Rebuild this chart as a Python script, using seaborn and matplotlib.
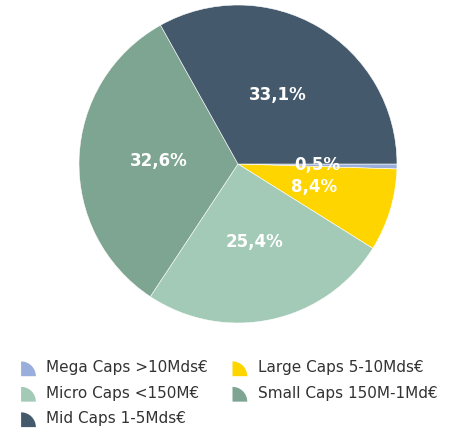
import matplotlib
matplotlib.use("Agg")
import matplotlib.pyplot as plt
import seaborn as sns
from matplotlib.patches import Wedge
from matplotlib.legend_handler import HandlerPatch

# données
categories = ['Mega Caps >10Mds€', 'Large Caps 5-10Mds€', 'Micro Caps <150M€',
              'Small Caps 150M-1Md€', 'Mid Caps 1-5Mds€']
parts = [0.5, 8.4, 25.4, 32.6, 33.1]
etiquettes = ['0,5%', '8,4%', '25,4%', '32,6%', '33,1%']
couleurs = ['#9aaedb', '#ffd500', '#a2cab6', '#7ea591', '#445a6c']

sns.set_theme(style='white')
plt.rcParams['font.family'] = ['DejaVu Sans']


class HandlerQuart(HandlerPatch):
    # petit quart de cercle comme symbole de légende
    def create_artists(self, legend, orig_handle, xdescent, ydescent,
                       width, height, fontsize, trans):
        r = height * 1.08
        p = Wedge((-xdescent, -ydescent - 1.5), r, 0, 90,
                  facecolor=orig_handle.get_facecolor(), edgecolor='none',
                  transform=trans)
        return [p]


fig = plt.figure(figsize=(4.59, 4.28), dpi=100)
ax = fig.add_axes([0.1721, 0.2453, 0.6928, 0.7430])

wedges, textes = ax.pie(parts, colors=couleurs, startangle=0, counterclock=False,
                        labels=etiquettes, labeldistance=0.5,
                        wedgeprops=dict(edgecolor='white', linewidth=0.4),
                        textprops=dict(color='white', fontweight='bold', fontsize=12,
                                       ha='center', va='center'))
ax.set_xlim(-1, 1)
ax.set_ylim(-1, 1)
ax.set_aspect('equal')

# ordre colonne par colonne pour obtenir le même rangement que l'original
ordre = [0, 2, 4, 1, 3]
leg = fig.legend([wedges[i] for i in ordre], [categories[i] for i in ordre],
                 loc='upper left', bbox_to_anchor=(0.016, 0.19), ncol=2,
                 frameon=False, fontsize=11, handlelength=1.05, handleheight=1.0,
                 handletextpad=0.6, columnspacing=1.6, labelspacing=0.68,
                 handler_map={w: HandlerQuart() for w in wedges})
for t in leg.get_texts():
    t.set_color('#333333')

fig.savefig('out.png', dpi=100)
